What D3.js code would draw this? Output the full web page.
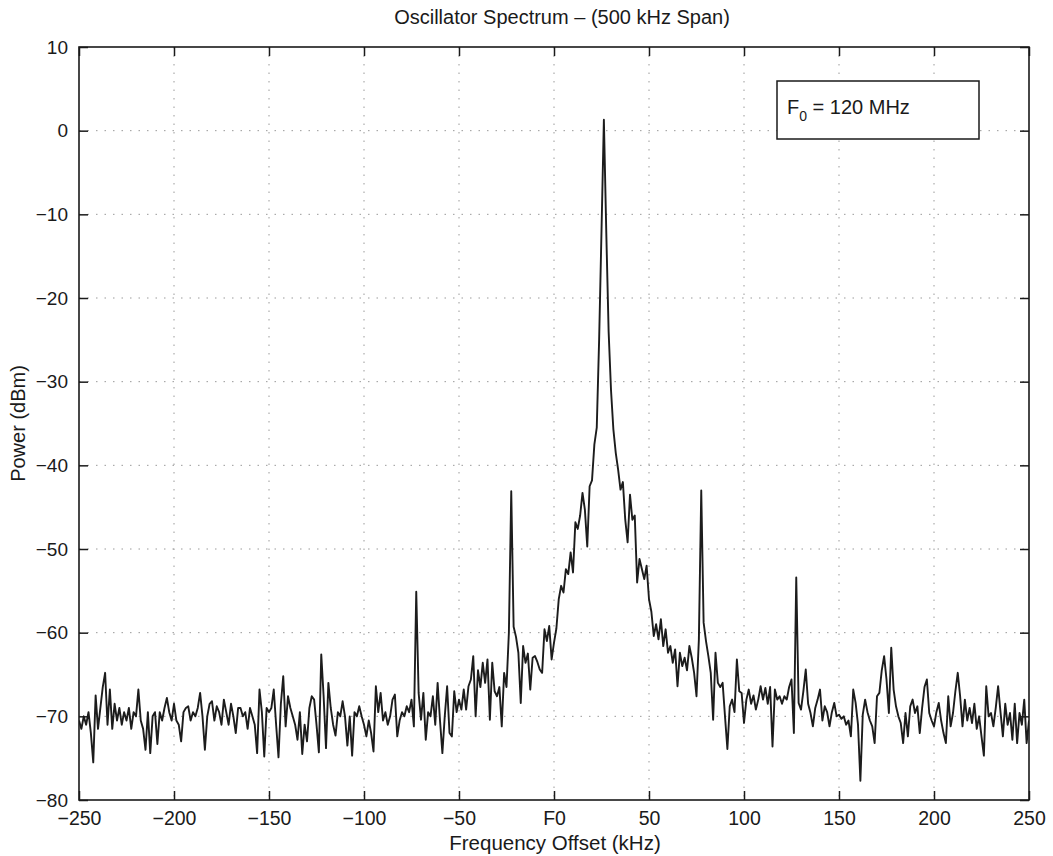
<!DOCTYPE html>
<html><head><meta charset="utf-8">
<script src="https://cdn.jsdelivr.net/npm/d3@7"></script>
<style>body{margin:0;background:#fff}svg text{font-family:"Liberation Sans",Arial,Helvetica,sans-serif;fill:#1a1a1a}</style>
</head><body><svg id="chart" width="1053" height="856"></svg>
<script>
// ---- data ----
const titleText = "Oscillator Spectrum – (500 kHz Span)";
const xLabelText = "Frequency Offset (kHz)";
const yLabelText = "Power (dBm)";
const xTickValues = [-250, -200, -150, -100, -50, 0, 50, 100, 150, 200, 250];
const xTickLabels = ["\u2212250", "\u2212200", "\u2212150", "\u2212100", "\u221250", "F0", "50", "100", "150", "200", "250"];
const yTickValues = [10, 0, -10, -20, -30, -40, -50, -60, -70, -80];
const yTickLabels = ["10", "0", "\u221210", "\u221220", "\u221230", "\u221240", "\u221250", "\u221260", "\u221270", "\u221280"];
const freqStart = -250;   // kHz, first sample
const freqStep = 1.25;    // kHz between samples
const power = [
 -70.5, -71.5, -70, -71, -69.5, -72, -75.5, -67.5, -71.5, -69,
 -66.5, -64.8, -71, -66.8, -71.5, -68.5, -70.5, -69, -71, -69.5,
 -70.5, -69, -71.5, -69.5, -70, -66.8, -70.5, -71.5, -74, -69.5,
 -74.4, -70, -69.5, -73.3, -69.5, -70.5, -69, -67.8, -69.5, -70.5,
 -68.5, -70.5, -71, -73, -69.5, -69, -68.8, -70.5, -69.5, -70,
 -69, -67.2, -70, -74, -70, -68.5, -68.2, -70.5, -68.8, -69.5,
 -71, -68, -69.5, -71, -68.5, -70, -72, -69, -69, -70,
 -69.5, -71.5, -69, -70, -71, -74.4, -66.8, -69.5, -74.8, -69,
 -69.5, -69, -66.8, -71, -74.9, -68.5, -65.2, -71.2, -67.6, -69,
 -70, -71, -72.8, -69.5, -74.5, -71, -73, -69, -67.6, -68,
 -71, -74.3, -62.6, -67.6, -73.8, -66, -69, -71, -72.3, -69.5,
 -70, -68.2, -70, -73.5, -70, -74.7, -69.5, -70, -68.8, -70,
 -71, -72.4, -70.5, -72, -74.2, -66.4, -69.5, -67.2, -70.5, -69.5,
 -71, -70, -68, -67.4, -72.4, -70.5, -69.5, -70, -68.8, -69.5,
 -68, -71.2, -55.1, -67.2, -70.4, -67.2, -72.8, -69.5, -70, -67.6,
 -71, -66, -70.5, -74.4, -70, -66.4, -72, -72.4, -67, -69.5,
 -68, -69.2, -66.8, -69.2, -66.4, -65.6, -62.8, -70, -64.5, -66.5,
 -63.6, -66, -63.2, -70.4, -63.6, -67, -67.6, -66.5, -71.2, -64.8,
 -66.5, -60, -43.1, -59.3, -60.5, -62.4, -68.4, -61.6, -63.6, -62.5,
 -66.8, -63, -62.8, -63.5, -64.4, -64.8, -59.6, -61, -59.2, -63.2,
 -61.2, -59.5, -56, -54.4, -55.2, -52.4, -53, -50.4, -52.8, -46.8,
 -47.6, -46, -43.3, -45.3, -49.7, -42.5, -41.8, -37.5, -35.5, -25,
 -12, 1.3, -12, -24, -31, -35.7, -38.5, -40.5, -42.9, -42,
 -46.5, -49.2, -43.5, -46.5, -46, -54, -51.2, -52.4, -53.6, -52,
 -56, -57.5, -60.4, -59, -60.8, -58.4, -61.6, -59.6, -62.4, -61.6,
 -63.6, -62, -66.4, -62.4, -64, -63, -64.5, -61.6, -63, -64.8,
 -67.6, -60.8, -43, -58.8, -61, -62.8, -64.8, -70.4, -62.4, -66,
 -66.5, -66, -70, -73.9, -68.8, -68, -69.5, -63.2, -67, -67.2,
 -70.8, -68, -66.8, -68.5, -67.5, -69.2, -68, -66.4, -68, -66.6,
 -68.5, -66.5, -73.6, -66.8, -68, -67.6, -68.5, -67.6, -68, -66.5,
 -65.6, -72, -53.4, -68.4, -69.2, -67, -64.4, -68.5, -69.6, -71.2,
 -69, -68, -66.8, -70.5, -68.8, -69.5, -71.2, -69.5, -68.4, -70,
 -69.8, -70.3, -70, -71, -70.5, -72.4, -66.8, -68.4, -71, -77.7,
 -69.8, -68, -69.5, -70.5, -71.2, -73.2, -67.6, -67.2, -64.5, -62.8,
 -65.6, -69.6, -61.8, -66.8, -68.8, -70, -70.8, -73.2, -69.6, -72.4,
 -68.8, -68, -69.6, -68.8, -72, -69, -66.5, -65.6, -69.6, -70.5,
 -71.2, -69.5, -68.4, -70.5, -72, -73.2, -67.6, -71.2, -69.6, -67,
 -64.8, -67.6, -71.2, -68, -70.5, -69, -70.8, -68.5, -71.5, -70,
 -72.4, -74.7, -66.4, -70, -69.6, -71.2, -69, -66.4, -69.5, -72.4,
 -68.5, -71, -69.6, -72.8, -68.5, -73.2, -69.6, -71, -68, -73.2,
 -70.5
];
const noteMain = "F";
const noteSub = "0";
const noteRest = " = 120 MHz";

// ---- layout ----
const L = 79, R = 1029, T = 47, B = 800;
const svg = d3.select("#chart");
const x = d3.scaleLinear().domain([-250, 250]).range([L, R]);
const y = d3.scaleLinear().domain([-80, 10]).range([B, T]);

// grid
const grid = svg.append("g").attr("stroke", "#9a9a9a").attr("stroke-width", 1).attr("stroke-dasharray", "1.5,7");
grid.selectAll("line.v").data(xTickValues.slice(1, -1)).join("line")
  .attr("x1", d => x(d)).attr("x2", d => x(d)).attr("y1", T).attr("y2", B);
grid.selectAll("line.h").data(yTickValues.slice(1, -1)).join("line")
  .attr("x1", L).attr("x2", R).attr("y1", d => y(d)).attr("y2", d => y(d));

// trace
svg.append("clipPath").attr("id", "clip").append("rect").attr("x", L).attr("y", T).attr("width", R - L).attr("height", B - T);
const line = d3.line().x((d, i) => x(freqStart + i * freqStep)).y(d => y(d));
svg.append("path").datum(power).attr("clip-path", "url(#clip)")
  .attr("fill", "none").attr("stroke", "#1c1c1c").attr("stroke-width", 1.9).attr("stroke-linejoin", "round")
  .attr("d", line);

// axes
const ax = svg.append("g").attr("transform", `translate(0,${B})`)
  .call(d3.axisBottom(x).tickValues(xTickValues).tickFormat((d, i) => xTickLabels[i]).tickSizeInner(-9).tickSizeOuter(0).tickPadding(11));
const ay = svg.append("g").attr("transform", `translate(${L},0)`)
  .call(d3.axisLeft(y).tickValues(yTickValues).tickFormat((d, i) => yTickLabels[i]).tickSizeInner(-9).tickSizeOuter(0).tickPadding(11));
const at = svg.append("g").attr("transform", `translate(0,${T})`)
  .call(d3.axisTop(x).tickValues(xTickValues).tickFormat("").tickSizeInner(-9).tickSizeOuter(0));
const ar = svg.append("g").attr("transform", `translate(${R},0)`)
  .call(d3.axisRight(y).tickValues(yTickValues).tickFormat("").tickSizeInner(-9).tickSizeOuter(0));
[ax, ay, at, ar].forEach(g => {
  g.select(".domain").remove();
  g.selectAll(".tick line").attr("stroke", "#1a1a1a").attr("stroke-width", 1.5);
  g.selectAll("text").style("font-size", "19.5px").attr("fill", "#1a1a1a");
});
ay.selectAll("text").style("font-size", "19px");

// frame
svg.append("rect").attr("x", L).attr("y", T).attr("width", R - L).attr("height", B - T)
  .attr("fill", "none").attr("stroke", "#1a1a1a").attr("stroke-width", 1.6);

// titles
svg.append("text").attr("x", 562).attr("y", 24).attr("text-anchor", "middle").style("font-size", "20px").text(titleText);
svg.append("text").attr("x", 555).attr("y", 850).attr("text-anchor", "middle").style("font-size", "20.5px").text(xLabelText);
svg.append("text").attr("transform", `translate(25,${(T + B) / 2}) rotate(-90)`).attr("text-anchor", "middle").style("font-size", "20px").text(yLabelText);

// annotation box
const box = svg.append("g");
box.append("rect").attr("x", 777).attr("y", 81).attr("width", 202).attr("height", 58)
  .attr("fill", "#fff").attr("stroke", "#1a1a1a").attr("stroke-width", 1.5);
const t = box.append("text").attr("x", 787).attr("y", 114).style("font-size", "20px");
t.append("tspan").text(noteMain);
t.append("tspan").attr("dy", 7).style("font-size", "14px").text(noteSub);
t.append("tspan").attr("dy", -7).text(noteRest);
</script>
</body></html>
